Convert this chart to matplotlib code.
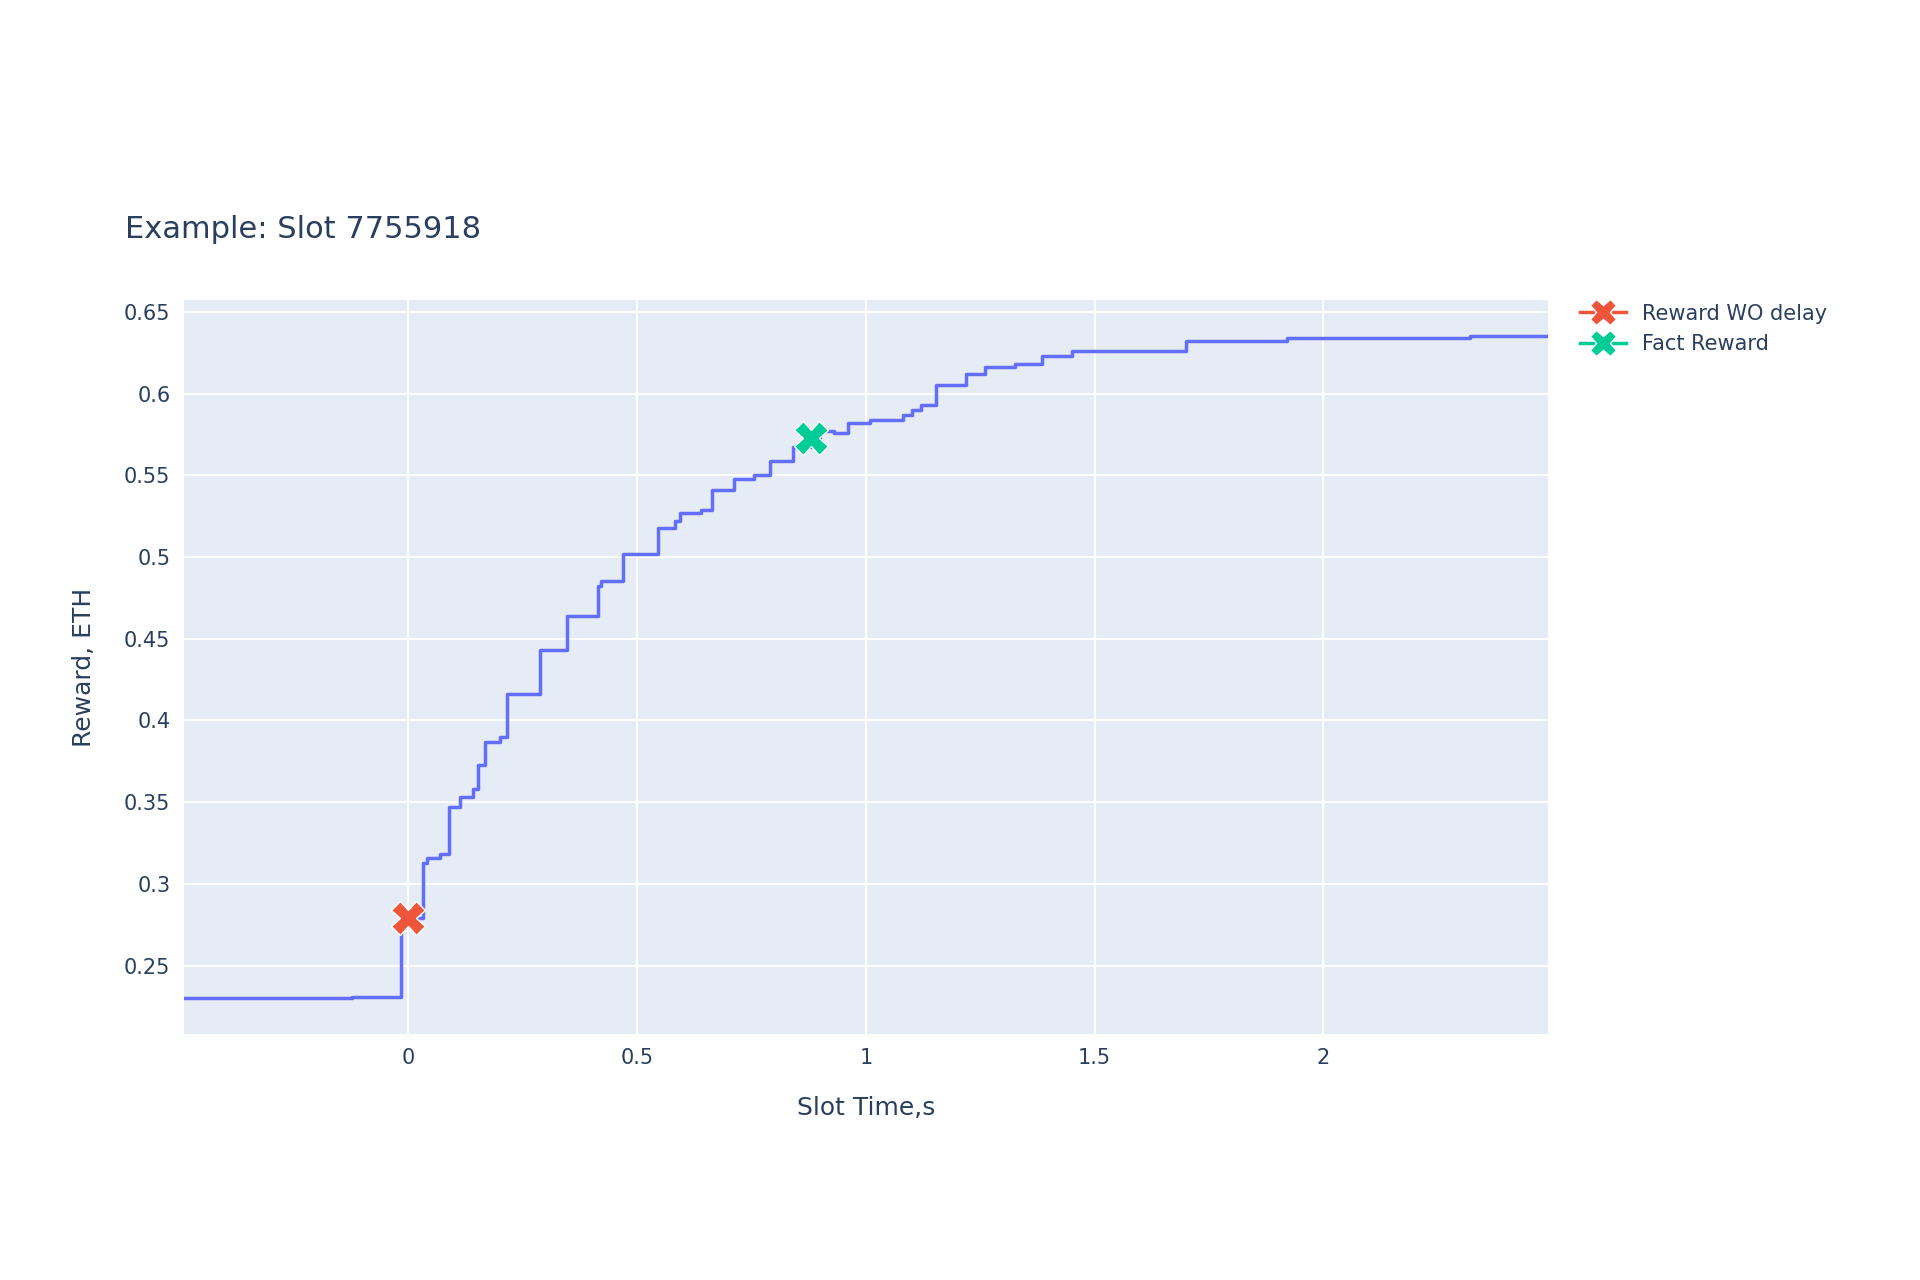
import matplotlib.pyplot as plt

# Step curve of reward vs slot time
slot_time = [-0.49, -0.124, -0.016, 0.032, 0.04, 0.07, 0.089, 0.113, 0.14, 0.153, 0.167,
             0.2, 0.215, 0.288, 0.347, 0.414, 0.42, 0.468, 0.546, 0.583, 0.594, 0.64,
             0.664, 0.712, 0.755, 0.79, 0.84, 0.88, 0.9, 0.93, 0.96, 1.01, 1.08, 1.1,
             1.12, 1.153, 1.218, 1.26, 1.325, 1.384, 1.45, 1.70, 1.92, 2.32, 2.49]
reward = [0.230, 0.231, 0.279, 0.313, 0.316, 0.318, 0.347, 0.353, 0.358, 0.373, 0.387,
          0.390, 0.416, 0.443, 0.464, 0.482, 0.485, 0.502, 0.518, 0.522, 0.527, 0.529,
          0.541, 0.548, 0.550, 0.559, 0.567, 0.573, 0.577, 0.576, 0.582, 0.584, 0.587, 0.590,
          0.593, 0.605, 0.612, 0.616, 0.618, 0.623, 0.626, 0.632, 0.634, 0.635, 0.635]

wo_delay = (0.0, 0.279)
fact = (0.88, 0.573)

fig = plt.figure(figsize=(19.2, 12.8), dpi=100)
ax = fig.add_axes([0.096, 0.192, 0.71, 0.574])
ax.set_facecolor('#E5ECF6')
ax.step(slot_time, reward, where='post', color='#636EFA', lw=2.5, zorder=2)
ax.plot(*wo_delay, marker='X', ms=24, color='#EF553B', mec='white', mew=1,
        ls='-', lw=2.5, label='Reward WO delay', zorder=3)
ax.plot(*fact, marker='X', ms=24, color='#00CC96', mec='white', mew=1,
        ls='-', lw=2.5, label='Fact Reward', zorder=3)

ax.set_xlim(-0.49, 2.49)
ax.set_ylim(0.208, 0.6575)
ax.set_xticks([0, 0.5, 1, 1.5, 2])
ax.set_xticklabels(['0', '0.5', '1', '1.5', '2'])
ax.set_yticks([0.25, 0.3, 0.35, 0.4, 0.45, 0.5, 0.55, 0.6, 0.65])
ax.set_yticklabels(['0.25', '0.3', '0.35', '0.4', '0.45', '0.5', '0.55', '0.6', '0.65'])
ax.grid(color='white', lw=1.5, zorder=0)
ax.set_axisbelow(True)
for s in ax.spines.values():
    s.set_visible(False)
ax.tick_params(length=0, labelsize=15, colors='#2a3f5f', pad=10)
ax.set_xlabel('Slot Time,s', fontsize=18, color='#2a3f5f', labelpad=20)
ax.set_ylabel('Reward, ETH', fontsize=18, color='#2a3f5f', labelpad=20)
fig.text(0.065, 0.821, 'Example: Slot 7755918', fontsize=22, color='#2a3f5f', va='center')

ax.legend(loc='upper left', bbox_to_anchor=(1.01, 1.02), frameon=False,
          fontsize=15, labelcolor='#2a3f5f', markerscale=0.8, handlelength=2.2)

plt.savefig('out.png', dpi=100)
plt.close()
